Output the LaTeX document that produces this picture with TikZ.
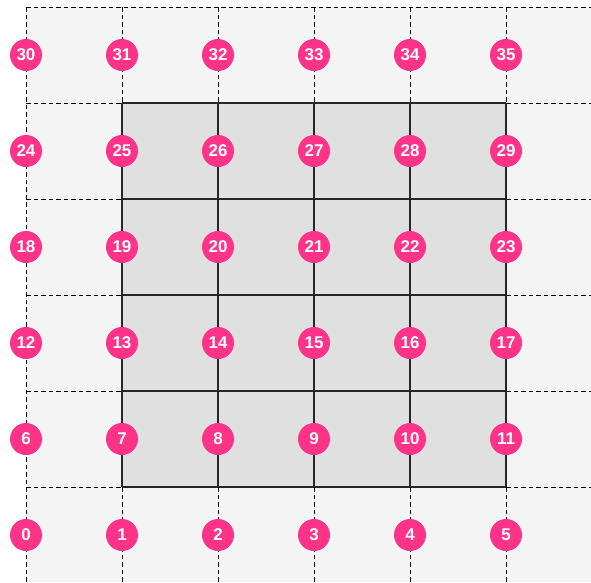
\documentclass[tikz,border=0pt]{standalone}
\usepackage{fontspec}
\setmainfont{Liberation Sans}
\definecolor{cellbg}{HTML}{F4F4F4}
\definecolor{innerbg}{HTML}{E0E0E0}
\definecolor{dotpink}{HTML}{FF3388}
\begin{document}
\begin{tikzpicture}[x=1pt,y=-1pt]
  \path[use as bounding box] (0,0) rectangle (591,582);

  % Light outer field and the darker inner block.
  \fill[cellbg] (26,7) rectangle (591,582);
  \fill[innerbg] (122,103) rectangle (506,487);

  \tikzset{gridline/.style={black,line width=1pt,dash pattern=on 4.5pt off 3pt},
           blockline/.style={black!85,line width=1.1pt},
           dot/.style={circle,fill=dotpink,text=white,inner sep=0pt,minimum size=32pt,
                       font=\bfseries\fontsize{17}{17}\selectfont}}
  \foreach \x in {26,122,...,506} \draw[gridline] (\x,7) -- (\x,582);
  \foreach \y in {7,103,...,487} \draw[gridline] (26,\y) -- (591,\y);
  \foreach \x in {122,218,...,506} \draw[blockline] (\x,103) -- (\x,487);
  \foreach \y in {103,199,...,487} \draw[blockline] (122,\y) -- (506,\y);

  % Numbered points, row by row from the bottom.
  \foreach \r in {0,...,5}
    \foreach \c in {0,...,5} {
      \pgfmathtruncatemacro\idx{6*\r+\c}
      \node[dot] (n\idx) at ({26+96*\c},{535-96*\r}) {\idx};
    }
\end{tikzpicture}
\end{document}
